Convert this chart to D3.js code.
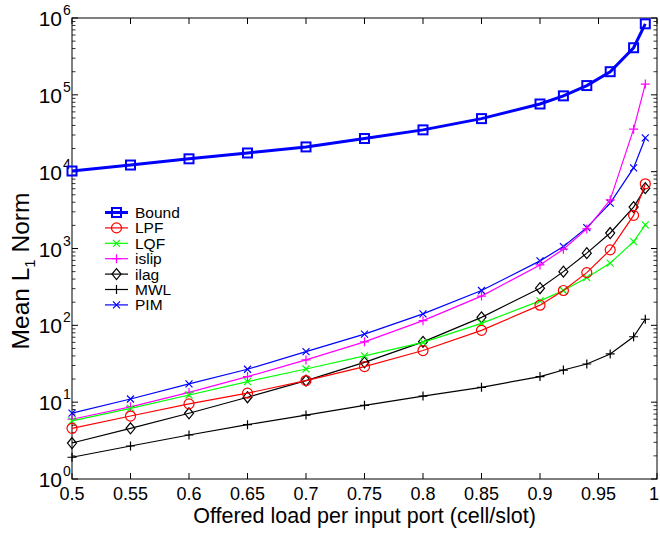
<!DOCTYPE html>
<html><head><meta charset="utf-8">
<script src="https://cdn.jsdelivr.net/npm/d3@7"></script>
<style>body{margin:0;background:#fff} text{font-family:"Liberation Sans",Arial,sans-serif}</style>
</head><body>
<svg id="c" width="660" height="537"></svg>
<script>
const loads = [0.5,0.55,0.6,0.65,0.7,0.75,0.8,0.85,0.9,0.92,0.94,0.96,0.98,0.99];
const bound = [10200,12200,14700,17500,21000,27000,35000,49000,76000,97000,132000,200000,410000,840000];
const lpf   = [4.57,6.6,9.5,13.1,19.1,29,47,86,183,284,485,960,2700,6950];
const lqf   = [5.7,8.3,12.4,18.5,27,40,60,106,208,284,417,645,1230,2030];
const islip = [6.0,8.7,13.4,21.5,35.5,61,115,240,611,980,1800,4300,35700,138000];
const ilag  = [2.94,4.57,7.17,11.6,19.1,33,61,127,304,500,870,1590,3460,6100];
const mwl   = [1.92,2.69,3.74,5.1,6.8,9.1,12.0,15.6,21.5,26.2,31.4,42.4,71,120];
const pim   = [7.2,11.0,17.3,26.8,45.5,77,141,284,690,1060,1870,3900,11200,27500];
const xTicks = [0.5,0.55,0.6,0.65,0.7,0.75,0.8,0.85,0.9,0.95,1];
const xTickLabels = ["0.5","0.55","0.6","0.65","0.7","0.75","0.8","0.85","0.9","0.95","1"];
const yExps = [0,1,2,3,4,5,6];
const seriesNames = ["Bound","LPF","LQF","islip","ilag","MWL","PIM"];

const series = [
  {name:seriesNames[0], vals:bound, color:"#0000ff", marker:"square", w:3},
  {name:seriesNames[1], vals:lpf,   color:"#ff0000", marker:"circle", w:1.2},
  {name:seriesNames[2], vals:lqf,   color:"#00ff00", marker:"x", w:1.2},
  {name:seriesNames[3], vals:islip, color:"#ff00ff", marker:"plus", w:1.2},
  {name:seriesNames[4], vals:ilag,  color:"#000000", marker:"diamond", w:1.2},
  {name:seriesNames[5], vals:mwl,   color:"#000000", marker:"plus", w:1.2},
  {name:seriesNames[6], vals:pim,   color:"#0000ff", marker:"x", w:1.2}
];

const L=72, R=657, T=18, B=479;
const svg = d3.select("#c");
const x = d3.scaleLinear().domain([0.5,1]).range([L,R]);
const y = d3.scaleLog().domain([1,1e6]).range([B,T]);

// frame
svg.append("rect").attr("x",L).attr("y",T).attr("width",R-L).attr("height",B-T)
  .attr("fill","none").attr("stroke","#000").attr("stroke-width",1);

// x ticks (bottom + top, inside)
const gx = svg.append("g");
xTicks.forEach(t=>{
  gx.append("line").attr("x1",x(t)).attr("x2",x(t)).attr("y1",B).attr("y2",B-6).attr("stroke","#000");
  gx.append("line").attr("x1",x(t)).attr("x2",x(t)).attr("y1",T).attr("y2",T+6).attr("stroke","#000");
});
xTicks.forEach((t,i)=>{
  svg.append("text").attr("x",Math.min(x(t),654)).attr("y",B+21).attr("text-anchor","middle")
    .attr("font-size",18).text(xTickLabels[i]);
});
// y ticks major + minor
const gy = svg.append("g");
yExps.forEach(e=>{
  const v = Math.pow(10,e);
  gy.append("line").attr("x1",L).attr("x2",L+6).attr("y1",y(v)).attr("y2",y(v)).attr("stroke","#000");
  gy.append("line").attr("x1",R).attr("x2",R-6).attr("y1",y(v)).attr("y2",y(v)).attr("stroke","#000");
  if(e<6){
    for(let k=2;k<=9;k++){
      const m = k*v;
      gy.append("line").attr("x1",L).attr("x2",L+3.5).attr("y1",y(m)).attr("y2",y(m)).attr("stroke","#000").attr("stroke-width",0.8);
      gy.append("line").attr("x1",R).attr("x2",R-3.5).attr("y1",y(m)).attr("y2",y(m)).attr("stroke","#000").attr("stroke-width",0.8);
    }
  }
  svg.append("text").attr("x",L-10).attr("y",y(v)+8).attr("text-anchor","end").attr("font-size",21).text("10");
  svg.append("text").attr("x",L-9).attr("y",y(v)-3).attr("text-anchor","start").attr("font-size",14).text(e);
});

// axis titles
svg.append("text").attr("x",(L+R)/2).attr("y",B+44).attr("text-anchor","middle").attr("font-size",21.5)
  .text("Offered load per input port (cell/slot)");
const yl = svg.append("text").attr("transform",`translate(29,271) rotate(-90)`)
  .attr("text-anchor","middle").attr("font-size",24.5);
yl.append("tspan").text("Mean L");
yl.append("tspan").attr("font-size",15).attr("dy",6).text("1");
yl.append("tspan").attr("dy",-6).text(" Norm");

function drawMarker(g, type, cx, cy, color){
  const s = 4.5;
  if(type==="square"){
    g.append("rect").attr("x",cx-4.5).attr("y",cy-4.5).attr("width",9).attr("height",9)
      .attr("fill","none").attr("stroke",color).attr("stroke-width",2);
  } else if(type==="circle"){
    g.append("circle").attr("cx",cx).attr("cy",cy).attr("r",5).attr("fill","none").attr("stroke",color).attr("stroke-width",1.2);
  } else if(type==="x"){
    g.append("path").attr("d",`M${cx-3.5},${cy-3.5}L${cx+3.5},${cy+3.5}M${cx-3.5},${cy+3.5}L${cx+3.5},${cy-3.5}`)
      .attr("stroke",color).attr("stroke-width",1.2);
  } else if(type==="plus"){
    g.append("path").attr("d",`M${cx-s},${cy}L${cx+s},${cy}M${cx},${cy-s}L${cx},${cy+s}`)
      .attr("stroke",color).attr("stroke-width",1.2);
  } else if(type==="diamond"){
    g.append("path").attr("d",`M${cx},${cy-5.5}L${cx+4.5},${cy}L${cx},${cy+5.5}L${cx-4.5},${cy}Z`)
      .attr("fill","none").attr("stroke",color).attr("stroke-width",1.2);
  }
}

const line = d3.line().x(d=>x(d[0])).y(d=>y(d[1]));
const plot = svg.append("g");
series.slice().reverse().forEach(s=>{
  const pts = loads.map((l,i)=>[l,s.vals[i]]);
  plot.append("path").attr("d",line(pts)).attr("fill","none").attr("stroke",s.color).attr("stroke-width",s.w);
  pts.forEach(p=>drawMarker(plot,s.marker,x(p[0]),y(p[1]),s.color));
});

// legend
const lg = svg.append("g");
series.forEach((s,i)=>{
  const ly = 212.5 + i*15.4;
  lg.append("line").attr("x1",105).attr("x2",128).attr("y1",ly).attr("y2",ly).attr("stroke",s.color).attr("stroke-width",s.w);
  drawMarker(lg,s.marker,116.5,ly,s.color);
  lg.append("text").attr("x",135).attr("y",ly+5.5).attr("font-size",15.5).text(s.name);
});
</script>
</body></html>
